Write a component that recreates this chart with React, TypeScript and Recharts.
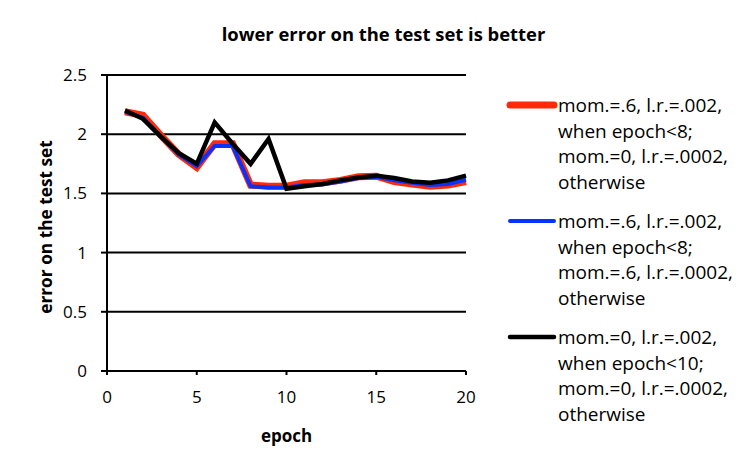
import { CartesianGrid, Legend, Line, LineChart, XAxis, YAxis } from "recharts"

const epochs = [1, 2, 3, 4, 5, 6, 7, 8, 9, 10, 11, 12, 13, 14, 15, 16, 17, 18, 19, 20]
const redErr = [2.19, 2.16, 1.99, 1.83, 1.72, 1.92, 1.92, 1.57, 1.56, 1.56, 1.59, 1.59, 1.61, 1.64, 1.645, 1.6, 1.58, 1.56, 1.57, 1.6]
const blueErr = [2.19, 2.14, 1.98, 1.83, 1.73, 1.9, 1.9, 1.56, 1.55, 1.55, 1.57, 1.575, 1.6, 1.63, 1.64, 1.61, 1.59, 1.57, 1.58, 1.615]
const blackErr = [2.2, 2.13, 1.98, 1.84, 1.75, 2.1, 1.92, 1.75, 1.96, 1.54, 1.56, 1.58, 1.61, 1.635, 1.65, 1.63, 1.6, 1.59, 1.61, 1.65]
const xTicks = [0, 5, 10, 15, 20]
const yTicks = [0, 0.5, 1, 1.5, 2, 2.5]

const series = [
  {
    key: "red",
    color: "#ff2a0a",
    width: 7,
    label: ["mom.=.6, l.r.=.002,", "when epoch<8;", "mom.=0, l.r.=.0002,", "otherwise"],
  },
  {
    key: "blue",
    color: "#0a32ff",
    width: 4,
    label: ["mom.=.6, l.r.=.002,", "when epoch<8;", "mom.=.6, l.r.=.0002,", "otherwise"],
  },
  {
    key: "black",
    color: "#000000",
    width: 4.5,
    label: ["mom.=0, l.r.=.002,", "when epoch<10;", "mom.=0, l.r.=.0002,", "otherwise"],
  },
]

const data = epochs.map((epoch, i) => ({
  epoch,
  red: redErr[i],
  blue: blueErr[i],
  black: blackErr[i],
}))

const font = "'Open Sans', Lato, sans-serif"

function LegendBox() {
  return (
    <div style={{ fontFamily: font, fontSize: 19, color: "#000" }}>
      {series.map((s) => (
        <div key={s.key} style={{ display: "flex", alignItems: "flex-start", marginBottom: 14 }}>
          <svg width={52} height={25} style={{ flexShrink: 0 }}>
            <line x1={4} y1={12} x2={48} y2={12} stroke={s.color} strokeWidth={s.width} strokeLinecap="round" />
          </svg>
          <div style={{ lineHeight: "25.5px" }}>
            {s.label.map((l) => (
              <div key={l}>{l}</div>
            ))}
          </div>
        </div>
      ))}
    </div>
  )
}

function YLabel() {
  return (
    <text
      x={52}
      y={227}
      transform="rotate(-90 52 227)"
      textAnchor="middle"
      fill="#000"
      fontSize={17.3}
      fontWeight="bold"
      fontFamily={font}
    >
      error on the test set
    </text>
  )
}

export default function App() {
  return (
    <div style={{ position: "absolute", left: 0, top: 0, width: 747, height: 472, background: "#fff", fontFamily: font }}>
      <div
        style={{
          position: "absolute",
          left: 0,
          width: 747,
          top: 21,
          textAlign: "center",
          fontWeight: "bold",
          fontSize: 18.4,
          paddingLeft: 20,
          boxSizing: "border-box",
        }}
      >
        lower error on the test set is better
      </div>
      <LineChart width={747} height={472} data={data} margin={{ top: 75, right: 281, bottom: 66, left: 0 }}>
        <CartesianGrid vertical={false} stroke="#000" strokeWidth={2} strokeOpacity={1} />
        <XAxis
          dataKey="epoch"
          type="number"
          domain={[0, 20]}
          ticks={xTicks}
          height={35}
          axisLine={{ stroke: "#000", strokeWidth: 2 }}
          tickLine={{ stroke: "#000", strokeWidth: 2 }}
          tickSize={4}
          tickMargin={16}
          tick={{ fill: "#000", fontSize: 17, fontFamily: font }}
          label={{ value: "epoch", position: "insideBottom", offset: -36, fill: "#000", fontSize: 17, fontWeight: "bold", fontFamily: font }}
        />
        <YAxis
          type="number"
          domain={[0, 2.5]}
          ticks={yTicks}
          width={107}
          axisLine={{ stroke: "#000", strokeWidth: 2 }}
          tickLine={{ stroke: "#000", strokeWidth: 2 }}
          tickSize={6}
          tickMargin={14}
          tick={{ fill: "#000", fontSize: 17, fontFamily: font }}
          label={<YLabel />}
        />
        <Legend
          layout="vertical"
          align="center"
          verticalAlign="middle"
          content={() => <LegendBox />}
          wrapperStyle={{ left: 506, top: 93, width: 241 }}
        />
        {series.map((s) => (
          <Line
            key={s.key}
            dataKey={s.key}
            type="linear"
            stroke={s.color}
            strokeWidth={s.width}
            dot={false}
            isAnimationActive={false}
          />
        ))}
      </LineChart>
    </div>
  )
}
